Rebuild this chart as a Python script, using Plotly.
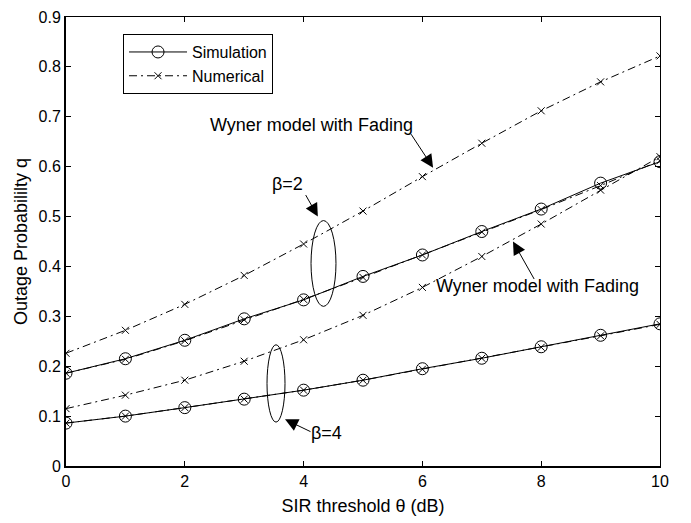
import plotly.graph_objects as go

theta = [0, 1, 2, 3, 4, 5, 6, 7, 8, 9, 10]
sim_b2 = [0.186, 0.215, 0.252, 0.295, 0.333, 0.380, 0.423, 0.470, 0.515, 0.567, 0.610]
num_b2 = [0.186, 0.214, 0.251, 0.293, 0.334, 0.378, 0.423, 0.469, 0.514, 0.562, 0.612]
sim_b4 = [0.086, 0.100, 0.117, 0.134, 0.152, 0.172, 0.195, 0.216, 0.239, 0.262, 0.285]
num_b4 = [0.086, 0.100, 0.117, 0.134, 0.152, 0.172, 0.194, 0.216, 0.238, 0.261, 0.284]
wyner_b2 = [0.226, 0.272, 0.324, 0.382, 0.445, 0.511, 0.580, 0.647, 0.712, 0.770, 0.822]
wyner_b4 = [0.115, 0.142, 0.172, 0.210, 0.253, 0.302, 0.358, 0.420, 0.485, 0.553, 0.620]

x_ticks = [0, 2, 4, 6, 8, 10]
y_ticks = [0, 0.1, 0.2, 0.3, 0.4, 0.5, 0.6, 0.7, 0.8, 0.9]
y_tick_text = ["0", "0.1", "0.2", "0.3", "0.4", "0.5", "0.6", "0.7", "0.8", "0.9"]

FONT = "Liberation Sans, Arial, Helvetica, sans-serif"
DASHDOT = "8px,4px,2px,4px"

fig = go.Figure()

sim_style = dict(mode="lines+markers", line=dict(color="black", width=1),
                 marker=dict(symbol="circle-open", size=12, color="black", line=dict(width=1)))
num_style = dict(mode="lines+markers", line=dict(color="black", width=1, dash=DASHDOT),
                 marker=dict(symbol="x-thin-open", size=7, color="black", line=dict(width=1, color="black")))

fig.add_trace(go.Scatter(x=theta, y=sim_b2, name="Simulation", showlegend=True, **sim_style))
fig.add_trace(go.Scatter(x=theta, y=num_b2, name="Numerical", showlegend=True, **num_style))
fig.add_trace(go.Scatter(x=theta, y=sim_b4, name="Simulation", showlegend=False, **sim_style))
fig.add_trace(go.Scatter(x=theta, y=num_b4, name="Numerical", showlegend=False, **num_style))
fig.add_trace(go.Scatter(x=theta, y=wyner_b2, name="Wyner β=2", showlegend=False, **num_style))
fig.add_trace(go.Scatter(x=theta, y=wyner_b4, name="Wyner β=4", showlegend=False, **num_style))
# invisible trace to activate the mirrored top/right axes
fig.add_trace(go.Scatter(x=[0], y=[0], xaxis="x2", yaxis="y2", mode="markers",
                         marker=dict(opacity=0), showlegend=False, hoverinfo="skip"))

axis_common = dict(showgrid=False, zeroline=False, ticks="inside", ticklen=5,
                   tickcolor="black", tickfont=dict(family=FONT, size=16, color="black"))

fig.update_layout(
    width=691, height=523,
    margin=dict(l=66, r=31, t=9, b=57),
    paper_bgcolor="white", plot_bgcolor="white",
    font=dict(family=FONT, size=16, color="black"),
    xaxis=dict(range=[0, 10], tickvals=x_ticks, showline=True, linecolor="black", linewidth=2,
               title=dict(text="SIR threshold θ (dB)", font=dict(size=18), standoff=10), **axis_common),
    yaxis=dict(range=[0, 0.9], tickvals=y_ticks, ticktext=y_tick_text, showline=True,
               linecolor="black", linewidth=2,
               title=dict(text="Outage Probabililty q", font=dict(size=18), standoff=6), **axis_common),
    xaxis2=dict(range=[0, 10], tickvals=x_ticks, overlaying="x", side="top", showline=True,
                linecolor="black", linewidth=1, showticklabels=False, **axis_common),
    yaxis2=dict(range=[0, 0.9], tickvals=y_ticks, overlaying="y", side="right", showline=True,
                linecolor="black", linewidth=1, showticklabels=False, **axis_common),
    legend=dict(x=0.096, y=0.962, xanchor="left", yanchor="top", bgcolor="white",
                bordercolor="black", borderwidth=1, font=dict(family=FONT, size=16),
                itemwidth=58, tracegroupgap=0),
    showlegend=True,
)

# ellipses grouping beta curves
fig.add_shape(type="circle", xref="x", yref="y", x0=4.125, x1=4.545, y0=0.320, y1=0.492,
              line=dict(color="black", width=1))
fig.add_shape(type="circle", xref="x", yref="y", x0=3.384, x1=3.687, y0=0.088, y1=0.243,
              line=dict(color="black", width=1))

txt = dict(showarrow=False, font=dict(family=FONT, size=18, color="black"))
fig.add_annotation(x=4.14, y=0.683, text="Wyner model with Fading", **txt)
fig.add_annotation(x=7.93, y=0.360, text="Wyner model with Fading", **txt)
fig.add_annotation(x=3.737, y=0.565, text="β=2", **txt)
fig.add_annotation(x=4.39, y=0.066, text="β=4", **txt)

arr = dict(text="", showarrow=True, arrowhead=2, arrowsize=2.6, arrowwidth=1, arrowcolor="black")
fig.add_annotation(x=6.18, y=0.598, ax=-23, ay=-35, **arr)
fig.add_annotation(x=7.525, y=0.450, ax=22, ay=39, **arr)
fig.add_annotation(x=4.24, y=0.500, ax=-13, ay=-23, **arr)
fig.add_annotation(x=3.687, y=0.0935, ax=27, ay=13, **arr)

fig.write_html("out.html")
